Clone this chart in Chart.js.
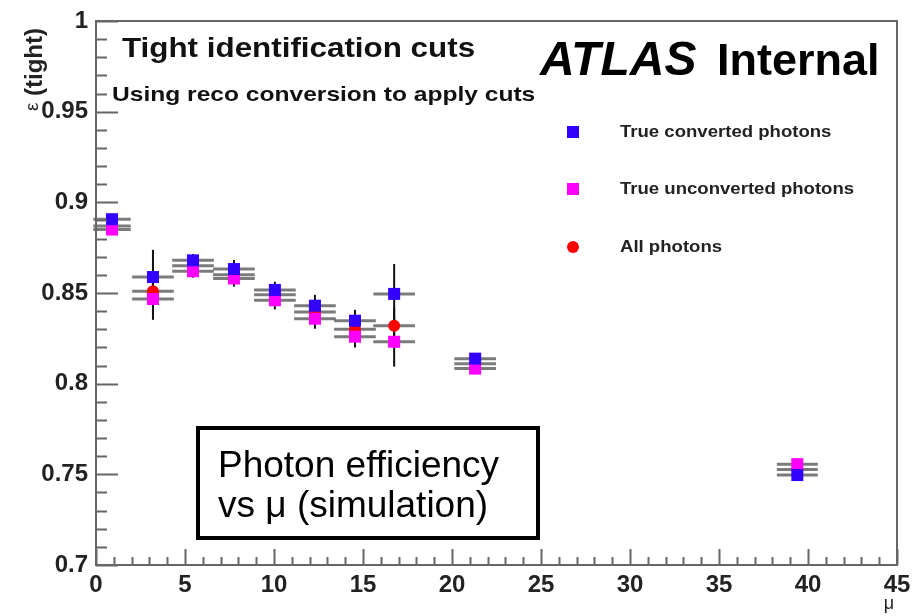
<!DOCTYPE html>
<html>
<head>
<meta charset="utf-8">
<script src="https://cdn.jsdelivr.net/npm/chart.js@4.4.0/dist/chart.umd.min.js"></script>
<style>
html,body{margin:0;padding:0;background:#fff;}
#contenedor{position:relative;width:914px;height:616px;}
</style>
</head>
<body>
<div id="contenedor"><canvas id="grafica_eficiencia"></canvas></div>
<script>
// mean mu per bin and half width of the bin
var arrayMu    = [0.9, 3.2, 5.45, 7.75, 10.05, 12.3, 14.55, 16.75, 21.3, 39.4];
var arrayMuErr = [1.05, 1.17, 1.17, 1.17, 1.17, 1.17, 1.17, 1.17, 1.17, 1.15];

// efficiencies (tight) and their errors
var arrayConv      = [0.8907, 0.8588, 0.8680, 0.8632, 0.8517, 0.8430, 0.8347, 0.8495, 0.8138, 0.7496];
var arrayConvErr   = [0.003, 0.015, 0.0035, 0.005, 0.0045, 0.006, 0.006, 0.0165, 0.002, 0.003];
var arrayUnconv    = [0.8850, 0.8467, 0.8620, 0.8580, 0.8460, 0.8358, 0.8259, 0.8231, 0.8083, 0.7556];
var arrayUnconvErr = [0.003, 0.0115, 0.0035, 0.0045, 0.005, 0.0055, 0.006, 0.0137, 0.002, 0.003];
var arrayAll       = [0.8870, 0.8510, 0.8650, 0.8600, 0.8490, 0.8395, 0.8300, 0.8320, 0.8110, 0.7526];
var arrayAllErr    = [0.002, 0.009, 0.0025, 0.0035, 0.0035, 0.004, 0.004, 0.010, 0.0015, 0.002];

// axis labels
var yTicks = [0.7, 0.75, 0.8, 0.85, 0.9, 0.95, 1];
var xTicks = [0, 5, 10, 15, 20, 25, 30, 35, 40, 45];

var FUENTE = '"Liberation Sans", Arial, sans-serif';

function puntos(valores, errores){
    var arr = new Array();
    valores.forEach(function(v, i){
        arr.push({x: arrayMu[i], y: v, ex: arrayMuErr[i], ey: errores[i]});
    });
    return arr;
}

// text a bit wider than the font, like the ROOT labels
function textoAncho(ctx, txt, x, y, sx){
    ctx.save();
    ctx.translate(x, y);
    ctx.scale(sx, 1);
    ctx.fillText(txt, 0, 0);
    ctx.restore();
}

var convData = {
    label: 'True converted photons',
    data: puntos(arrayConv, arrayConvErr),
    pointStyle: 'rect',
    pointRadius: 8.5,
    backgroundColor: '#3300ff',
    borderWidth: 0,
    order: 0
};
var unconvData = {
    label: 'True unconverted photons',
    data: puntos(arrayUnconv, arrayUnconvErr),
    pointStyle: 'rect',
    pointRadius: 8.5,
    backgroundColor: '#ff00ff',
    borderWidth: 0,
    order: 1
};
var allData = {
    label: 'All photons',
    data: puntos(arrayAll, arrayAllErr),
    pointStyle: 'circle',
    pointRadius: 6,
    backgroundColor: '#ff0000',
    borderWidth: 0,
    order: 2
};

// error bars: grey in mu, black in efficiency
var errorBars = {
    id: 'errorBars',
    beforeDatasetsDraw: function(chart){
        var ctx = chart.ctx;
        var xs = chart.scales.x, ys = chart.scales.y;
        ctx.save();
        chart.data.datasets.forEach(function(ds){
            ds.data.forEach(function(p){
                var py = ys.getPixelForValue(p.y);
                ctx.strokeStyle = 'rgba(90,90,90,0.8)';
                ctx.lineWidth = 3;
                ctx.beginPath();
                ctx.moveTo(xs.getPixelForValue(p.x - p.ex), py);
                ctx.lineTo(xs.getPixelForValue(p.x + p.ex), py);
                ctx.stroke();
                var px = xs.getPixelForValue(p.x);
                ctx.strokeStyle = '#111';
                ctx.lineWidth = 2;
                ctx.beginPath();
                ctx.moveTo(px, ys.getPixelForValue(p.y - p.ey));
                ctx.lineTo(px, ys.getPixelForValue(p.y + p.ey));
                ctx.stroke();
            });
        });
        ctx.restore();
    }
};

// frame, inner ticks, legend and texts
var decoracion = {
    id: 'decoracion',
    afterDraw: function(chart){
        var ctx = chart.ctx;
        var a = chart.chartArea;
        var xs = chart.scales.x, ys = chart.scales.y;
        ctx.save();

        ctx.strokeStyle = '#666';
        ctx.lineWidth = 2;
        ctx.strokeRect(a.left, a.top, a.right - a.left, a.bottom - a.top);

        ctx.beginPath();
        for(var i = 70; i <= 100; i++){
            var py = Math.round(ys.getPixelForValue(i / 100)) + 0.5;
            var len = (i % 5 == 0) ? 22 : 11;
            ctx.moveTo(a.left, py);
            ctx.lineTo(a.left + len, py);
        }
        for(var j = 0; j <= 45; j++){
            var px = Math.round(xs.getPixelForValue(j)) + 0.5;
            var lx = (j % 5 == 0) ? 16 : 8;
            ctx.moveTo(px, a.bottom);
            ctx.lineTo(px, a.bottom - lx);
        }
        ctx.stroke();

        // legend
        ctx.textBaseline = 'middle';
        ctx.textAlign = 'left';
        var filas = [132, 189, 247];
        [convData, unconvData, allData].forEach(function(ds, k){
            ctx.fillStyle = ds.backgroundColor;
            if(ds.pointStyle == 'rect'){
                ctx.fillRect(567, filas[k] - 6, 12, 12);
            } else {
                ctx.beginPath();
                ctx.arc(573, filas[k], 6, 0, Math.PI * 2);
                ctx.fill();
            }
            ctx.fillStyle = '#222';
            ctx.font = 'bold 16px ' + FUENTE;
            textoAncho(ctx, ds.label, 620, filas[k] + 1, 1.16);
        });

        // titles
        ctx.textBaseline = 'alphabetic';
        ctx.fillStyle = '#111';
        ctx.font = 'bold 28px ' + FUENTE;
        textoAncho(ctx, 'Tight identification cuts', 122, 57, 1.12);
        ctx.font = 'bold 21px ' + FUENTE;
        textoAncho(ctx, 'Using reco conversion to apply cuts', 112, 101, 1.17);

        ctx.fillStyle = '#000';
        ctx.font = 'italic bold 48px ' + FUENTE;
        ctx.fillText('ATLAS', 540, 75);
        ctx.font = 'bold 45px ' + FUENTE;
        ctx.fillText('Internal', 717, 75);

        // axis titles
        ctx.save();
        ctx.translate(38, 111);
        ctx.rotate(-Math.PI / 2);
        ctx.font = '19px ' + FUENTE;
        ctx.fillStyle = '#222';
        ctx.fillText('\u03b5', 0, 0);
        ctx.font = 'bold 24px ' + FUENTE;
        ctx.fillText('(tight)', 15, 4);
        ctx.restore();

        ctx.font = '18px ' + FUENTE;
        ctx.fillStyle = '#222';
        ctx.textAlign = 'center';
        ctx.fillText('\u03bc', 889, 609);

        // text box
        ctx.strokeStyle = '#000';
        ctx.lineWidth = 4;
        ctx.strokeRect(198, 428, 340, 110);
        ctx.fillStyle = '#000';
        ctx.textAlign = 'left';
        ctx.font = '37px ' + FUENTE;
        ctx.fillText('Photon efficiency', 218, 477);
        ctx.fillText('vs \u03bc (simulation)', 218, 517);

        ctx.restore();
    }
};

var chartOptions = {
    responsive: true,
    maintainAspectRatio: false,
    animation: false,
    layout: {padding: {top: 21, right: 17, left: 0, bottom: 0}},
    plugins: {
        legend: {display: false},
        tooltip: {enabled: false}
    },
    scales: {
        x: {
            type: 'linear',
            min: 0,
            max: 45,
            afterBuildTicks: function(scale){
                scale.ticks = xTicks.map(function(v){ return {value: v}; });
            },
            afterFit: function(scale){
                scale.height = 51;
                scale.paddingLeft = 0;
                scale.paddingRight = 0;
            },
            grid: {display: false, drawTicks: false},
            border: {display: false},
            ticks: {
                padding: 6,
                color: '#222',
                font: {family: FUENTE, size: 24, weight: 'bold'},
                maxRotation: 0,
                autoSkip: false
            }
        },
        y: {
            type: 'linear',
            min: 0.7,
            max: 1,
            afterBuildTicks: function(scale){
                scale.ticks = yTicks.map(function(v){ return {value: v}; });
            },
            afterFit: function(scale){
                scale.width = 96;
                scale.paddingTop = 0;
                scale.paddingBottom = 0;
            },
            grid: {display: false, drawTicks: false},
            border: {display: false},
            ticks: {
                padding: 8,
                color: '#222',
                font: {family: FUENTE, size: 24, weight: 'bold'},
                autoSkip: false,
                callback: function(value){ return String(value); }
            }
        }
    }
};

new Chart(document.getElementById('grafica_eficiencia'), {
    type: 'scatter',
    data: {datasets: [convData, unconvData, allData]},
    options: chartOptions,
    plugins: [errorBars, decoracion]
});
</script>
</body>
</html>
